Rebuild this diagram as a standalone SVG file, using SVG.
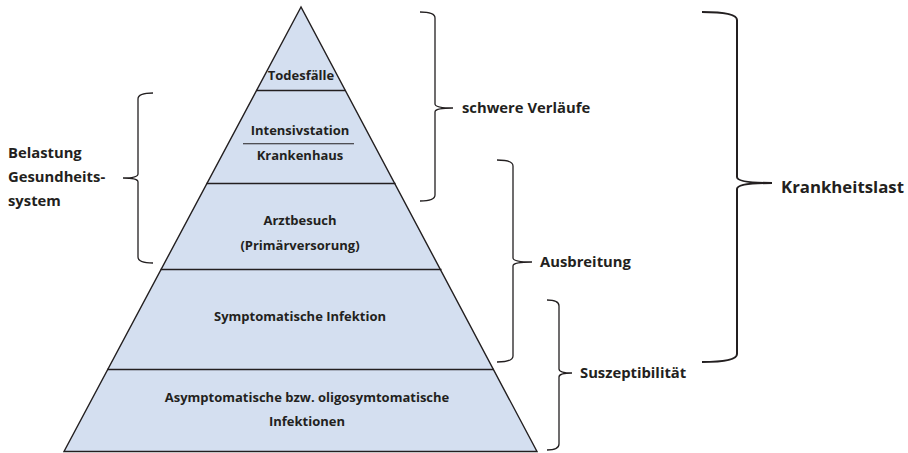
<svg xmlns="http://www.w3.org/2000/svg" width="908" height="453" viewBox="0 0 908 453">
<style>
.t{font-family:"Open Sans",Lato,"Liberation Sans",sans-serif;font-weight:700;fill:#231f20}
.p{font-size:13px;text-anchor:middle}
.l{font-size:14.8px}
.br{fill:none;stroke:#231f20;stroke-width:1.3}
.div{stroke:#231f20;stroke-width:1.5}
</style>
<rect width="908" height="453" fill="#ffffff"/>
<g id="pyramid">
<polygon points="301,7 64,451.5 537,451.5" fill="#d4dff0" stroke="#231f20" stroke-width="1.4"/>
<line class="div" x1="256.5" y1="90.5" x2="345.5" y2="90.5"/>
<line class="div" x1="206.5" y1="183.5" x2="395.5" y2="183.5"/>
<line class="div" x1="160.5" y1="269.5" x2="441.5" y2="269.5"/>
<line class="div" x1="107" y1="369.5" x2="494" y2="369.5"/>
</g>
<g id="todesfaelle"><text class="t p" x="301" y="80">Todesfälle</text></g>
<g id="intensiv">
<text class="t p" x="300" y="135">Intensivstation</text>
<line x1="243" y1="143.7" x2="354" y2="143.7" stroke="#231f20" stroke-width="1.1"/>
<text class="t p" x="300" y="160">Krankenhaus</text>
</g>
<g id="arzt">
<text class="t p" x="300" y="225">Arztbesuch</text>
<text class="t p" x="300" y="250">(Primärversorung)</text>
</g>
<g id="symptomatisch"><text class="t p" x="300" y="321">Symptomatische Infektion</text></g>
<g id="asymptomatisch">
<text class="t p" x="307" y="402">Asymptomatische bzw. oligosymtomatische</text>
<text class="t p" x="307" y="426">Infektionen</text>
</g>
<g id="connectors">
<path class="br" d="M153,93 Q138,93 138,99 L138,174 Q138,178 123,178 Q138,178 138,182 L138,257 Q138,263 153,263"/>
<path class="br" d="M420,12 Q435,12 435,18 L435,104 Q435,108 453,108 Q435,108 435,112 L435,195 Q435,201 420,201"/>
<path class="br" d="M497,160 Q513,160 513,166 L513,258 Q513,262 532,262 Q513,262 513,266 L513,356 Q513,362 497,362"/>
<path class="br" d="M547,300 Q559,300 559,306 L559,369 Q559,373 572,373 Q559,373 559,377 L559,444 Q559,450 547,450"/>
<path class="br" style="stroke-width:2" d="M702,12 Q737,12 737,20 L737,177 Q737,183 772,183 Q737,183 737,189 L737,354 Q737,362 702,362"/>
</g>
<g id="belastung">
<text class="t l" x="8" y="158">Belastung</text>
<text class="t l" x="8" y="182">Gesundheits-</text>
<text class="t l" x="8" y="206">system</text>
</g>
<g id="schwere"><text class="t l" x="462" y="113">schwere Verläufe</text></g>
<g id="ausbreitung"><text class="t l" x="540" y="267">Ausbreitung</text></g>
<g id="suszeptibilitaet"><text class="t l" x="580" y="378">Suszeptibilität</text></g>
<g id="krankheitslast"><text class="t" style="font-size:16.8px" x="781" y="193">Krankheitslast</text></g>
</svg>
